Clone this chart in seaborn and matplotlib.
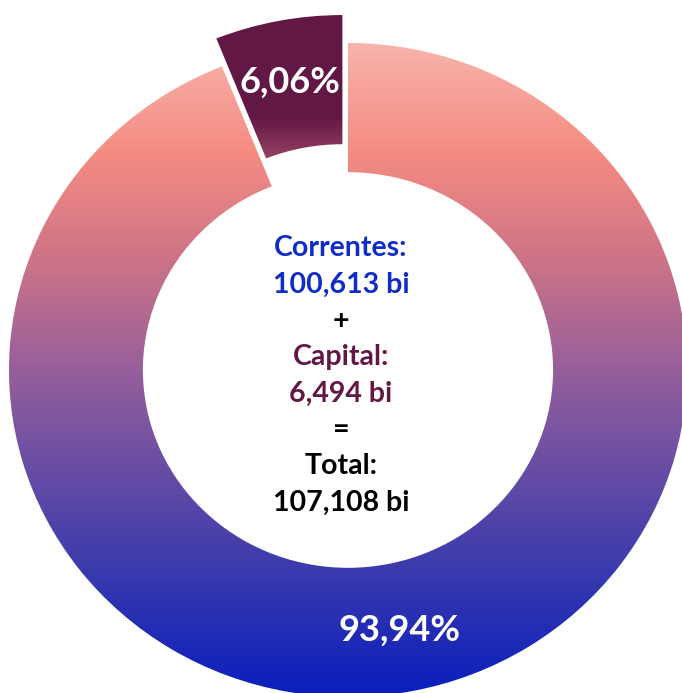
import numpy as np
import matplotlib
matplotlib.use("Agg")
import matplotlib.pyplot as plt
import seaborn as sns

# receitas (bilhões)
labels = ["Correntes", "Capital"]
values_bi = [100.613, 6.494]
explode = [0, 0.087]

center_lines = ["Correntes:", "100,613 bi", "+", "Capital:", "6,494 bi", "=", "Total:", "107,108 bi"]
center_colors = ["#0F2CC6", "#0F2CC6", "black", "#621844", "#621844", "black", "black", "black"]

ring_colors = ["#F7B4AC", "#F58C82", "#CD7387", "#965F9B", "#644BA5", "#3237AF", "#0A1EBE"]
capital_colors = ["#621844", "#621844", "#621844", "#631845", "#8E3A5E", "#C06C7A"]

sns.set_theme(style="white")
plt.rcParams['font.family'] = ['Lato', 'DejaVu Sans']

fig = plt.figure(figsize=(6.82, 6.93), dpi=100)
ax = fig.add_axes([0, 0, 1, 1])


def fmt(p):
    return f"{p:.2f}".replace(".", ",") + "%"


wedges, texts, autotexts = ax.pie(
    values_bi, startangle=90, counterclock=False, explode=explode,
    autopct=fmt, pctdistance=0.81,
    wedgeprops=dict(width=0.395, linewidth=0),
    textprops=dict(color="white", fontsize=26, fontweight="bold"))

# gradient fill clipped to each wedge
grad = np.linspace(0, 1, 512).reshape(-1, 1)
extents = [(-1.1, 1.1, -1.0, 1.0), (-1.1, 1.1, 0.56, 1.09)]
cmaps = [sns.blend_palette(ring_colors, as_cmap=True),
         sns.blend_palette(capital_colors, as_cmap=True)]
for w, cmap, e in zip(wedges, cmaps, extents):
    w.set_facecolor("none")
    im = ax.imshow(grad, cmap=cmap, extent=e, aspect="auto", origin="upper",
                   zorder=1, interpolation="bilinear")
    im.set_clip_path(w)

ax.set_aspect("auto")
ax.set_xlim(-1.0265, 0.9853)
ax.set_ylim(-0.9878, 1.1315)
ax.axis("off")

for i, (line, col) in enumerate(zip(center_lines, center_colors)):
    py = 248 + i * 36.4
    fig.text(0.5, 1 - py / 693, line, color=col, fontsize=20.5, fontweight="bold",
             ha="center", va="center")

fig.savefig("out.png", dpi=100)
